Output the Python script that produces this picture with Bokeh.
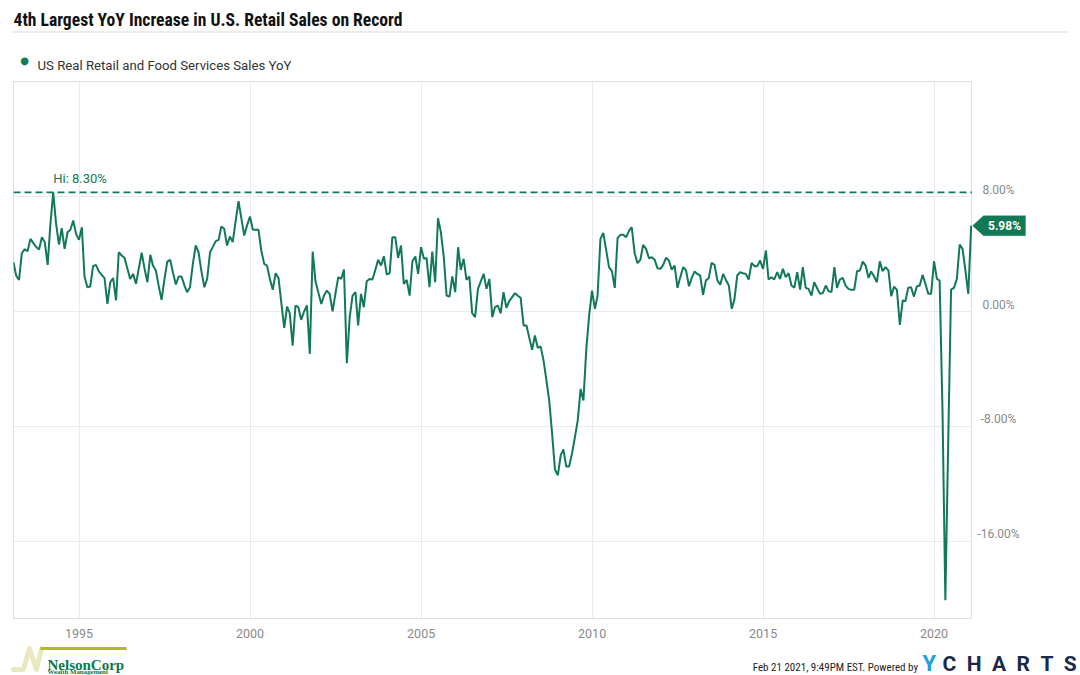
import pandas as pd
from bokeh.plotting import figure
from bokeh.layouts import column, row
from bokeh.models import (Range1d, FixedTicker, DatetimeTickFormatter, Grid,
                          Span, Label, PolyAnnotation)
from bokeh.embed import file_html
from bokeh.resources import INLINE

TITLE = "4th Largest YoY Increase in U.S. Retail Sales on Record"
SERIES_NAME = "US Real Retail and Food Services Sales YoY"
FOOTER = "Feb 21 2021, 9:49PM EST.  Powered by"
START = "1993-01-01"   # monthly data, Jan 1993 .. Jan 2021

v1993 = [3.44, 2.51, 2.2, 4.06, 4.34, 4.2, 5.06, 4.76, 4.5, 4.32, 5.18, 4.83]
v1994 = [3.25, 6.0, 8.3, 6.15, 4.67, 5.8, 4.36, 5.52, 5.69, 6.34, 5.41, 4.99]
v1995 = [5.87, 2.44, 1.69, 1.74, 3.16, 3.25, 2.79, 2.55, 2.32, 0.53, 2.04, 2.32]
v1996 = [0.77, 4.13, 3.9, 3.74, 3.0, 2.27, 2.62, 1.93, 3.0, 4.09, 3.0, 2.04]
v1997 = [3.95, 3.2, 2.86, 1.8, 0.81, 2.2, 3.48, 3.6, 2.7, 1.88, 2.44, 2.44]
v1998 = [1.8, 1.35, 1.69, 3.3, 4.6, 4.13, 2.8, 1.69, 2.27, 4.13, 4.5, 4.9]
v1999 = [4.99, 5.92, 5.76, 4.6, 5.22, 4.83, 6.3, 7.68, 6.5, 5.29, 6.0, 6.62]
v2000 = [5.69, 5.7, 5.69, 4.25, 3.32, 3.2, 2.27, 1.51, 2.67, 2.34, 0.6, -1.14]
v2001 = [0.35, -0.12, -2.37, 0.42, 0.3, -0.58, 0.0, 0.42, -2.95, 4.18, 2.1, 1.3]
v2002 = [0.53, 1.1, 1.46, 1.23, 0.02, 1.2, 2.39, 2.27, 2.92, -3.6, -0.39, 1.11]
v2003 = [1.35, -0.97, 1.23, 0.3, 2.11, 2.27, 2.23, 2.9, 3.6, 3.2, 3.85, 2.58]
v2004 = [2.67, 5.18, 5.18, 3.74, 4.6, 1.93, 2.2, 1.11, 3.5, 3.83, 2.62, 4.48]
v2005 = [3.67, 3.74, 1.69, 4.18, 2.04, 6.5, 5.52, 3.78, 1.11, 1.04, 2.44, 1.35]
v2006 = [4.48, 2.9, 3.67, 2.2, 2.44, -0.12, -0.39, 1.58, 2.1, 2.62, 1.58, 2.27]
v2007 = [-0.39, 0.3, 0.42, -0.12, 1.35, 0.26, 0.72, 1.0, 1.28, 1.1, 0.95, -0.97]
v2008 = [-0.97, -1.8, -2.66, -1.67, -2.54, -2.43, -3.4, -4.8, -6.2, -8.52, -11.0, -11.4]
v2009 = [-10.0, -9.6, -10.8, -10.8, -9.9, -8.8, -7.6, -5.4, -6.2, -2.6, -0.28, 1.46]
v2010 = [0.19, 1.11, 5.06, 5.48, 4.29, 3.09, 2.81, 1.65, 5.13, 5.34, 5.34, 5.18]
v2011 = [5.64, 5.87, 4.06, 3.37, 3.6, 4.64, 4.36, 3.71, 3.78, 3.6, 3.02, 2.97]
v2012 = [3.27, 3.74, 3.55, 2.92, 3.2, 1.65, 2.4, 3.09, 2.86, 1.76, 2.34, 2.79]
v2013 = [2.6, 2.51, 1.16, 2.16, 2.34, 3.39, 3.25, 2.16, 1.86, 2.62, 2.2, 1.81]
v2014 = [0.19, 0.81, 2.51, 2.74, 2.67, 2.62, 2.23, 3.39, 3.16, 3.16, 3.55, 2.97]
v2015 = [4.25, 2.23, 2.39, 2.23, 2.74, 2.27, 2.97, 2.39, 2.67, 1.81, 1.65, 2.74]
v2016 = [1.53, 3.09, 1.65, 1.58, 1.11, 2.04, 1.62, 1.23, 1.28, 1.81, 1.42, 1.35]
v2017 = [3.09, 1.65, 2.23, 2.34, 1.81, 1.58, 1.51, 1.51, 2.81, 2.86, 3.48, 3.2]
v2018 = [2.34, 2.79, 2.44, 2.04, 3.5, 2.81, 3.09, 2.86, 1.07, 1.74, 1.51, -0.93]
v2019 = [0.77, 0.72, 1.65, 1.69, 1.04, 1.74, 1.81, 2.55, 1.93, 1.23, 1.23, 3.5]
v2020 = [2.27, 2.16, -7.0, -20.1, -9.0, 1.53, 1.65, 2.27, 4.67, 4.36, 2.86, 1.23]
v2021 = [5.98]

X_TICK_YEARS = [1995, 2000, 2005, 2010, 2015, 2020]
Y_TICKS = [-16, -8, 0, 8]

vals = (v1993 + v1994 + v1995 + v1996 + v1997 + v1998 + v1999 + v2000 + v2001 + v2002 +
        v2003 + v2004 + v2005 + v2006 + v2007 + v2008 + v2009 + v2010 + v2011 + v2012 +
        v2013 + v2014 + v2015 + v2016 + v2017 + v2018 + v2019 + v2020 + v2021)
dates = pd.date_range(START, periods=len(vals), freq="MS") + pd.offsets.MonthEnd(0)
date_ms = [d.timestamp() * 1000 for d in dates]

GREEN = "#117a55"
GRID = "#ebebeb"
LABEL_GREY = "#8a8a8a"
COND = "Roboto Condensed, Liberation Sans Narrow, Roboto"

# ---- layout sizes (page is 1080 x 675) ----
W_MAIN, W_RIGHT = 972, 108
H_HEAD, H_MID, H_FOOT = 81, 563, 31
MB_L, MB_B = 13, 26
FRAME_H = H_MID - MB_B

x_start = pd.Timestamp("1993-01-31").timestamp() * 1000
x_end = pd.Timestamp("2021-02-14").timestamp() * 1000
y_range = Range1d(-21.38, 16.02)
val_per_px = (y_range.end - y_range.start) / FRAME_H


def canvas_fig(w, h, y_top):
    """A figure whose frame fills the canvas; data units equal page pixels."""
    f = figure(width=w, height=h, x_range=Range1d(0, w), y_range=Range1d(y_top + h, y_top),
               x_axis_location=None, y_axis_location=None, output_backend="svg",
               toolbar_location=None, min_border=0)
    f.outline_line_color = None
    f.xgrid.visible = False
    f.ygrid.visible = False
    f.background_fill_color = "white"
    f.border_fill_color = "white"
    return f


# ---------------- header ----------------
head = canvas_fig(W_MAIN + W_RIGHT, H_HEAD, 0)
head.add_layout(Label(x=13, y=19.5, text=TITLE, text_font=COND, text_font_size="17.6px",
                      text_font_style="bold", text_color="#111111", text_baseline="alphabetic"))
head.add_layout(PolyAnnotation(xs=[12, 1067, 1067, 12], ys=[30.5, 30.5, 32.5, 32.5],
                               fill_color="#ececec", fill_alpha=1, line_color=None))
head.add_layout(Label(x=24, y=60, text="\u25cf", text_align="center", text_baseline="middle",
                      text_color=GREEN, text_font="DejaVu Sans", text_font_size="10px"))
head.add_layout(Label(x=37, y=64.5, text=SERIES_NAME, text_baseline="alphabetic",
                      text_color="#333333", text_font="Roboto", text_font_size="13.2px"))

# ---------------- main chart ----------------
p = figure(width=W_MAIN, height=H_MID, x_axis_type="datetime", y_axis_location=None,
           x_range=Range1d(x_start, x_end), y_range=y_range,
           output_backend="svg", toolbar_location=None,
           min_border_left=MB_L, min_border_right=0, min_border_top=0, min_border_bottom=MB_B)
p.background_fill_color = "white"
p.border_fill_color = "white"
p.outline_line_color = "#e0e0e0"

xt = FixedTicker(ticks=[pd.Timestamp(f"{y}-01-01").timestamp() * 1000 for y in X_TICK_YEARS])
yt = FixedTicker(ticks=Y_TICKS)
xa = p.xaxis[0]
xa.ticker = xt
xa.formatter = DatetimeTickFormatter(years="%Y", months="%Y", days="%Y")
xa.axis_line_color = None
xa.major_tick_line_color = None
xa.minor_tick_line_color = None
xa.major_tick_out = 0
xa.major_tick_in = 0
xa.minor_tick_out = 0
xa.major_label_text_color = LABEL_GREY
xa.major_label_text_font = "Roboto"
xa.major_label_text_font_size = "12.5px"
xa.major_label_standoff = 10
p.xgrid.ticker = xt
p.xgrid.grid_line_color = GRID
p.ygrid.visible = False
p.add_layout(Grid(dimension=1, ticker=yt, grid_line_color=GRID))

p.line(date_ms, vals, line_color=GREEN, line_width=2)

hi_i = max(range(len(vals)), key=lambda i: vals[i])
hi_val = vals[hi_i]
p.add_layout(Span(location=hi_val, dimension="width", line_color=GREEN,
                  line_dash="7 4", line_width=1.6))
p.add_layout(Label(x=date_ms[hi_i], y=hi_val, text=f"Hi: {hi_val:.2f}%", text_align="left",
                   text_baseline="bottom", y_offset=6, text_color=GREEN,
                   text_font="Roboto", text_font_size="13px"))

# ---------------- right side: value labels and last-value flag ----------------
side = figure(width=W_RIGHT, height=H_MID, x_range=Range1d(0, W_RIGHT), y_range=y_range,
              x_axis_location=None, y_axis_location=None, output_backend="svg",
              toolbar_location=None, min_border_left=0, min_border_right=0,
              min_border_top=0, min_border_bottom=MB_B)
side.outline_line_color = None
side.xgrid.visible = False
side.ygrid.visible = False
side.background_fill_color = "white"
side.border_fill_color = "white"
for t in Y_TICKS:
    side.add_layout(Label(x=26, y=t, text=f"{t:.2f}%", text_align="center",
                          text_baseline="middle", y_offset=7, text_color=LABEL_GREY,
                          text_font="Roboto", text_font_size="12px"))
last_val = vals[-1]
dv = 10 * val_per_px
side.add_layout(PolyAnnotation(xs=[0, 11, 53, 53, 11],
                               ys=[last_val, last_val + dv, last_val + dv, last_val - dv, last_val - dv],
                               fill_color=GREEN, fill_alpha=1, line_color=GREEN))
side.add_layout(Label(x=32, y=last_val, text=f"{last_val:.2f}%", text_align="center",
                      text_baseline="middle", text_color="white", text_font="Roboto",
                      text_font_size="12px", text_font_style="bold"))

# ---------------- footer ----------------
foot = canvas_fig(W_MAIN + W_RIGHT, H_FOOT, H_HEAD + H_MID)
foot.add_layout(Label(x=920, y=667, text=FOOTER, text_align="right", text_baseline="middle",
                      text_color="#222222", text_font=COND, text_font_size="11px"))
foot.add_layout(Label(x=922, y=675, text="Y", text_baseline="bottom", text_color="#1ea0dc",
                      text_font="Roboto", text_font_size="22px", text_font_style="bold"))
NB = "\u00a0\u00a0"
foot.add_layout(Label(x=942, y=675, text=NB.join("CHARTS"), text_baseline="bottom",
                      text_color="#1b2a4a", text_font="Roboto", text_font_size="21px",
                      text_font_style="bold"))
nx = [13, 23, 29, 36, 41]
ny = [669, 669, 648, 669, 648]
foot.add_layout(PolyAnnotation(xs=nx + nx[::-1], ys=ny + ny[::-1], fill_alpha=0,
                               line_color="#b5b72c", line_width=5, line_join="round"))
foot.add_layout(PolyAnnotation(xs=[40, 126, 126, 40], ys=[646.5, 646.5, 649.5, 649.5],
                               fill_color="#b5b72c", fill_alpha=1, line_color=None))
foot.add_layout(Label(x=47, y=664.5, text="NelsonCorp", text_baseline="alphabetic",
                      text_color="#0b7a4a", text_font="Liberation Serif",
                      text_font_size="15px", text_font_style="bold"))
foot.add_layout(Label(x=47, y=674, text="Wealth Management", text_baseline="bottom",
                      text_color="#0b7a4a", text_font="Liberation Serif",
                      text_font_size="6.8px", text_font_style="bold"))

layout = column(head, row(p, side), foot)
open("out.html", "w").write(file_html(layout, INLINE))
